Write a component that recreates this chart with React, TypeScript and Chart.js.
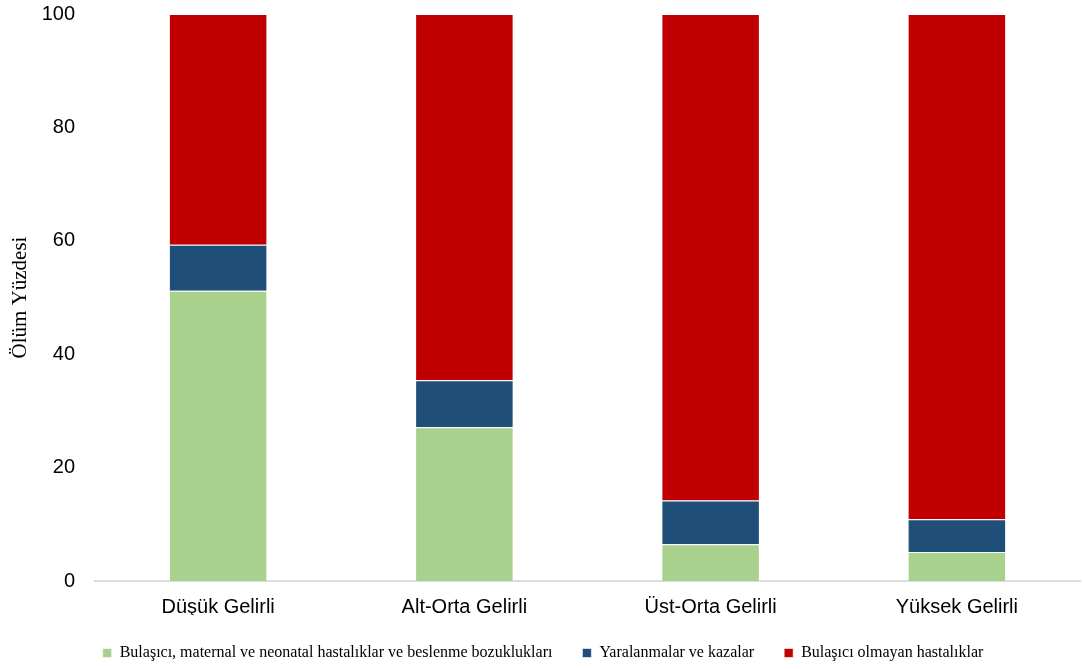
import React, { useEffect, useRef } from "react";
import { Chart, registerables } from "chart.js";

Chart.register(...registerables);

const categories = ["Düşük Gelirli", "Alt-Orta Gelirli", "Üst-Orta Gelirli", "Yüksek Gelirli"];
const communicable = [51.2, 27.1, 6.5, 5.1];
const injuries = [8.1, 8.3, 7.7, 5.8];
const nonCommunicable = [40.7, 64.6, 85.8, 89.1];
const seriesNames = [
  "Bulaşıcı, maternal ve neonatal hastalıklar ve beslenme bozuklukları",
  "Yaralanmalar ve kazalar",
  "Bulaşıcı olmayan hastalıklar",
];
const yTicks = [0, 20, 40, 60, 80, 100];

export default function App() {
  const canvasRef = useRef<HTMLCanvasElement | null>(null);

  useEffect(() => {
    const canvas = canvasRef.current;
    if (!canvas) return;
    const bar = { borderColor: "rgba(255,255,255,0.6)", borderWidth: 1, barPercentage: 0.8, categoryPercentage: 0.5 };
    const chart = new Chart(canvas, {
      type: "bar",
      data: {
        labels: categories,
        datasets: [
          { label: seriesNames[0], data: communicable, backgroundColor: "#a9d18e", ...bar },
          { label: seriesNames[1], data: injuries, backgroundColor: "#1f4e79", ...bar },
          { label: seriesNames[2], data: nonCommunicable, backgroundColor: "#c00000", ...bar },
        ],
      },
      options: {
        responsive: false,
        animation: false,
        layout: { padding: { top: 0, right: 3, left: 6, bottom: 0 } },
        plugins: {
          tooltip: { enabled: false },
          legend: {
            position: "bottom",
            maxHeight: 54,
            labels: {
              boxWidth: 9,
              boxHeight: 9,
              padding: 30,
              color: "#000000",
              font: { family: "'Liberation Serif', 'Times New Roman', serif", size: 16 },
            },
          },
        },
        scales: {
          x: {
            stacked: true,
            grid: { display: false, drawTicks: false },
            border: { display: true, color: "#d9dde3", width: 2 },
            ticks: {
              color: "#000000",
              padding: 14,
              font: { family: "'Liberation Sans', Arial, sans-serif", size: 20 },
            },
            afterFit: (scale: any) => {
              scale.height = 34;
            },
          },
          y: {
            stacked: true,
            min: 0,
            max: 100,
            afterBuildTicks: (scale: any) => {
              scale.ticks = yTicks.map((v) => ({ value: v }));
            },
            grid: { display: false, drawTicks: true, tickLength: 18 },
            border: { display: false },
            ticks: {
              color: "#000000",
              padding: 2,
              font: { family: "'Liberation Sans', Arial, sans-serif", size: 20 },
            },
            title: {
              display: true,
              text: "Ölüm Yüzdesi",
              color: "#000000",
              padding: { top: 2, bottom: 0 },
              font: { family: "'Liberation Serif', 'Times New Roman', serif", size: 21, weight: "normal" },
            },
            afterFit: (scale: any) => {
              scale.width = 89;
            },
          },
        },
      },
    });
    return () => chart.destroy();
  }, []);

  return (
    <div style={{ position: "fixed", left: 0, top: 0, width: 1083, height: 669, background: "#ffffff" }}>
      <canvas ref={canvasRef} width={1083} height={669} />
    </div>
  );
}
